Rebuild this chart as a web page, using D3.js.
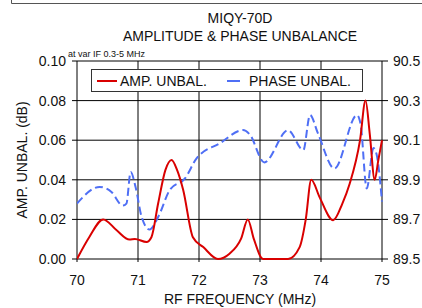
<!DOCTYPE html>
<html>
<head>
<meta charset="utf-8">
<script src="https://cdn.jsdelivr.net/npm/d3@7"></script>
<style>
  body { margin: 0; background: #fff; }
  text { font-family: Arial, "Liberation Sans", sans-serif; fill: #111; }
</style>
</head>
<body>
<svg id="chart" width="422" height="308"></svg>
<script>
// values
const ampFreq = [70.0, 70.2, 70.43, 70.65, 70.86, 70.95, 71.14, 71.22, 71.33, 71.45, 71.55, 71.64, 71.74, 71.9, 72.07, 72.31, 72.5, 72.69, 72.8, 72.9, 73.05, 73.46, 73.65, 73.75, 73.84, 73.98, 74.2, 74.35, 74.47, 74.64, 74.73, 74.8, 74.88, 74.94, 75.0];
const ampVal = [0.000, 0.011, 0.020, 0.0145, 0.0098, 0.0101, 0.0086, 0.011, 0.028, 0.045, 0.050, 0.045, 0.035, 0.011, 0.006, 0.000, 0.0027, 0.0103, 0.020, 0.010, 0.000, 0.000, 0.006, 0.020, 0.040, 0.031, 0.0196, 0.028, 0.038, 0.060, 0.080, 0.063, 0.040, 0.050, 0.060];

const phaseFreq = [70.0, 70.37, 70.56, 70.75, 70.81, 70.88, 70.96, 71.06, 71.19, 71.33, 71.52, 71.77, 71.96, 72.34, 72.72, 72.83, 73.07, 73.46, 73.71, 73.82, 73.95, 74.22, 74.59, 74.65, 74.75, 74.86, 74.91, 75.0];
const phaseVal = [89.78, 89.864, 89.84, 89.77, 89.78, 89.94, 89.864, 89.712, 89.649, 89.712, 89.848, 89.907, 90.008, 90.084, 90.151, 90.13, 89.988, 90.15, 90.05, 90.227, 90.134, 89.957, 90.227, 90.18, 89.856, 90.06, 90.03, 89.79];

const xTicks = [70, 71, 72, 73, 74, 75];
const ampTicks = [0, 0.02, 0.04, 0.06, 0.08, 0.10];
const phaseTicks = [89.5, 89.7, 89.9, 90.1, 90.3, 90.5];

const svg = d3.select("#chart");
const plotLeft = 77, plotRight = 382, plotTop = 61, plotBottom = 259;

const x = d3.scaleLinear().domain([70, 75]).range([plotLeft, plotRight]);
const yAmp = d3.scaleLinear().domain([0, 0.10]).range([plotBottom, plotTop]);
const yPh = d3.scaleLinear().domain([89.5, 90.5]).range([plotBottom, plotTop]);

// frame remnant at top
svg.append("path")
    .attr("d", "M11.5,0 V3.5 H422")
    .attr("fill", "none")
    .attr("stroke", "#555")
    .attr("stroke-width", 1);

// titles
svg.append("text").attr("x", 240).attr("y", 23).attr("text-anchor", "middle")
    .style("font-size", "14px").text("MIQY-70D");
svg.append("text").attr("x", 240).attr("y", 41).attr("text-anchor", "middle")
    .style("font-size", "14px").text("AMPLITUDE & PHASE UNBALANCE");
svg.append("text").attr("x", 68).attr("y", 57)
    .style("font-size", "9px").text("at var IF 0.3-5 MHz");

// grid
const grid = svg.append("g");
grid.selectAll(".hg").data(ampTicks).join("line")
    .attr("x1", plotLeft - 5).attr("x2", plotRight + 6)
    .attr("y1", d => yAmp(d)).attr("y2", d => yAmp(d))
    .attr("stroke", "#000").attr("stroke-width", 1);
grid.selectAll(".vg").data(xTicks).join("line")
    .attr("x1", d => x(d)).attr("x2", d => x(d))
    .attr("y1", plotTop).attr("y2", plotBottom + 3)
    .attr("stroke", "#000").attr("stroke-width", 1);

// axis labels
svg.append("g").selectAll("text").data(ampTicks).join("text")
    .attr("x", plotLeft - 11).attr("y", d => yAmp(d) + 5)
    .attr("text-anchor", "end").style("font-size", "14px")
    .text(d => d3.format(".2f")(d));
svg.append("g").selectAll("text").data(phaseTicks).join("text")
    .attr("x", plotRight + 11).attr("y", d => yPh(d) + 5)
    .style("font-size", "14px")
    .text(d => d3.format(".1f")(d));
svg.append("g").selectAll("text").data(xTicks).join("text")
    .attr("x", d => x(d)).attr("y", 285)
    .attr("text-anchor", "middle").style("font-size", "14px")
    .text(d => d);

svg.append("text").attr("x", 240).attr("y", 304).attr("text-anchor", "middle")
    .style("font-size", "14px").text("RF FREQUENCY (MHz)");
svg.append("text").attr("transform", "translate(27,160) rotate(-90)")
    .attr("text-anchor", "middle").style("font-size", "14px")
    .text("AMP. UNBAL. (dB)");

// curves
svg.append("clipPath").attr("id", "plot")
    .append("rect").attr("x", plotLeft).attr("y", plotTop - 2)
    .attr("width", plotRight - plotLeft + 1).attr("height", plotBottom - plotTop + 4);

const ampLine = d3.line()
    .x((d, i) => x(ampFreq[i]))
    .y(d => yAmp(d))
    .curve(d3.curveMonotoneX);
const phLine = d3.line()
    .x((d, i) => x(phaseFreq[i]))
    .y(d => yPh(d))
    .curve(d3.curveMonotoneX);

svg.append("path").datum(phaseVal)
    .attr("d", phLine)
    .attr("fill", "none")
    .attr("stroke", "#4f6ff5")
    .attr("stroke-width", 2)
    .attr("stroke-dasharray", "8,4")
    .attr("clip-path", "url(#plot)");

svg.append("path").datum(ampVal)
    .attr("d", ampLine)
    .attr("fill", "none")
    .attr("stroke", "#d90000")
    .attr("stroke-width", 2)
    .attr("clip-path", "url(#plot)");

// legend
const lg = svg.append("g");
lg.append("rect").attr("x", 91.5).attr("y", 69.5).attr("width", 271).attr("height", 22)
    .attr("fill", "#fff").attr("stroke", "#333").attr("stroke-width", 1);
lg.append("line").attr("x1", 97).attr("x2", 117).attr("y1", 81).attr("y2", 81)
    .attr("stroke", "#d90000").attr("stroke-width", 2);
lg.append("text").attr("x", 120).attr("y", 86).style("font-size", "14px").text("AMP. UNBAL.");
lg.append("line").attr("x1", 227).attr("x2", 240).attr("y1", 81).attr("y2", 81)
    .attr("stroke", "#4f6ff5").attr("stroke-width", 2);
lg.append("text").attr("x", 249).attr("y", 86).style("font-size", "14px").text("PHASE UNBAL.");
</script>
</body>
</html>
